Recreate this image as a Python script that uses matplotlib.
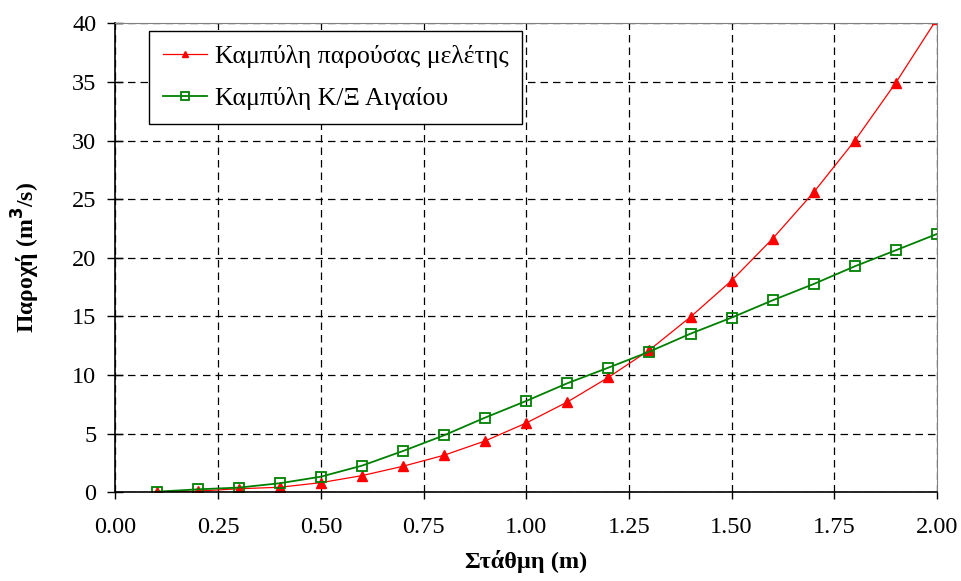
import matplotlib
matplotlib.use("Agg")
import matplotlib.pyplot as plt
import numpy as np

plt.rcParams['font.family'] = ['Liberation Serif', 'DejaVu Serif']

# Στάθμη (m)
stage = [0.1, 0.2, 0.3, 0.4, 0.5, 0.6, 0.7, 0.8, 0.9, 1.0,
         1.1, 1.2, 1.3, 1.4, 1.5, 1.6, 1.7, 1.8, 1.9, 2.0]
# Καμπύλη παρούσας μελέτης
q_study = [0.0, 0.1, 0.3, 0.43, 0.82, 1.42, 2.22, 3.16, 4.38, 5.91,
           7.7, 9.8, 12.14, 14.96, 18.06, 21.64, 25.6, 30.0, 34.95, 40.4]
# Καμπύλη Κ/Ξ Αιγαίου
q_aegean = [0.05, 0.25, 0.4, 0.77, 1.33, 2.27, 3.52, 4.86, 6.37, 7.79,
            9.3, 10.63, 12.0, 13.53, 14.9, 16.38, 17.77, 19.28, 20.65, 22.04]

xticks = np.arange(0, 2.01, 0.25)

fig = plt.figure(figsize=(9.62, 5.81), dpi=100)
ax = fig.add_axes([0.12, 0.1527, 0.854, 0.807])

ax.plot(stage, q_study, color='red', lw=0.9, marker='^', ms=6.5,
        label='Καμπύλη παρούσας μελέτης')
ax.plot(stage, q_aegean, color='green', lw=1.3, marker='s', ms=7.5,
        markerfacecolor='none', markeredgewidth=1.3,
        label='Καμπύλη Κ/Ξ Αιγαίου')

ax.set_xlim(0, 2)
ax.set_ylim(0, 40)
ax.set_xticks(xticks)
ax.set_yticks(np.arange(0, 41, 5))
ax.set_xticklabels([f"{v:.2f}" for v in xticks])

ax.grid(True, color='black', linestyle=(0, (6, 4)), linewidth=0.9)
ax.tick_params(axis='y', direction='inout', length=11.5, width=1, labelsize=17.5, pad=8)
ax.tick_params(axis='x', direction='out', length=5, width=1, labelsize=17.5, pad=13)

for s in ['top', 'right']:
    ax.spines[s].set_color('gray')
for s in ['left', 'bottom']:
    ax.spines[s].set_color('black')
    ax.spines[s].set_linewidth(1.2)

ax.set_xlabel('Στάθμη (m)', fontsize=17.5, fontweight='bold')
ax.set_ylabel('Παροχή (m$^\\mathbf{3}$/s)', fontsize=17, fontweight='bold')
ax.xaxis.set_label_coords(0.5, -0.123)
ax.yaxis.set_label_coords(-0.089, 0.5)

leg = ax.legend(loc='upper left', bbox_to_anchor=(0.041, 0.984), fontsize=18.5,
                frameon=True, fancybox=False, framealpha=1, edgecolor='black',
                borderpad=0.55, labelspacing=0.75, handlelength=1.7,
                handletextpad=0.3, borderaxespad=0, markerscale=0.75)
leg.get_frame().set_linewidth(1.0)

fig.savefig('out.png', dpi=100)
